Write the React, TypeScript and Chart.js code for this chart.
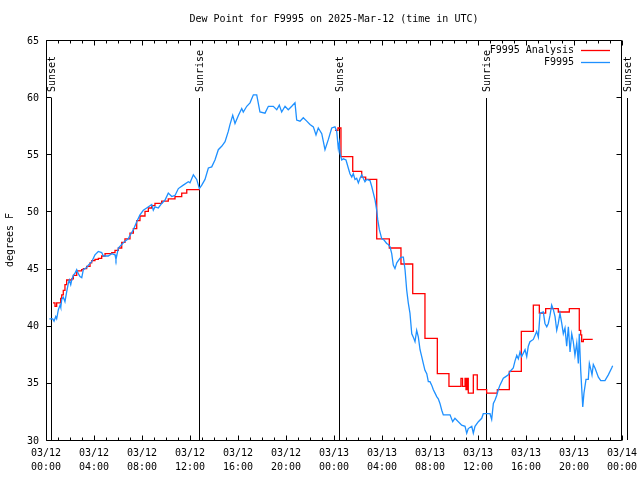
import React, { useEffect, useRef } from "react";
import { Chart, registerables } from "chart.js";

Chart.register(...registerables);

const TITLE = "Dew Point for F9995 on 2025-Mar-12 (time in UTC)";
const Y_TITLE = "degrees F";
const SERIES_NAMES = ["F9995 Analysis", "F9995"];
const SERIES_COLORS = ["#ff0000", "#1e90ff"];

const yTicks = [30, 35, 40, 45, 50, 55, 60, 65];
const xTickHours = [0, 4, 8, 12, 16, 20, 24, 28, 32, 36, 40, 44, 48];
const xTickDates = ["03/12", "03/12", "03/12", "03/12", "03/12", "03/12", "03/13", "03/13", "03/13", "03/13", "03/13", "03/13", "03/14"];
const xTickTimes = ["00:00", "04:00", "08:00", "12:00", "16:00", "20:00", "00:00", "04:00", "08:00", "12:00", "16:00", "20:00", "00:00"];

const sunHours = [0.44, 12.78, 24.44, 36.68, 48.4];
const sunLabels = ["Sunset", "Sunrise", "Sunset", "Sunrise", "Sunset"];

// F9995 Analysis (hours since 03/12 00:00 UTC, deg F)
const analysisHours = [0.58, 0.75, 0.89, 1.22, 1.31, 1.44, 1.58, 1.72, 2.14, 2.28, 2.56, 2.97, 3.11, 3.39, 3.67, 3.81, 4.08, 4.36, 4.64, 4.92, 5.19, 5.48, 5.75, 6.03, 6.31, 6.58, 7.0, 7.28, 7.56, 7.83, 8.25, 8.53, 8.81, 9.08, 9.64, 10.19, 10.75, 11.31, 11.73, 12.83, 13.0, 24.08, 24.33, 24.58, 25.56, 26.31, 26.64, 27.56, 28.61, 29.58, 30.56, 31.58, 32.61, 33.58, 34.58, 34.71, 34.92, 35.0, 35.11, 35.19, 35.61, 35.94, 36.72, 37.61, 38.61, 39.61, 40.61, 41.11, 41.64, 42.69, 43.61, 44.44, 44.56, 44.64, 44.78, 45.56];
const analysisValues = [42.0, 41.7, 42.0, 42.4, 42.7, 43.1, 43.6, 44.0, 44.1, 44.4, 44.8, 44.9, 45.0, 45.2, 45.5, 45.7, 45.8, 45.9, 46.1, 46.3, 46.3, 46.4, 46.6, 46.8, 47.3, 47.6, 48.1, 48.5, 49.2, 49.6, 50.0, 50.3, 50.5, 50.7, 50.9, 51.1, 51.3, 51.6, 51.9, 51.9, null, 57.1, 57.3, 54.8, 53.5, 53.0, 52.8, 47.6, 46.8, 45.4, 42.8, 38.9, 35.8, 34.7, 35.4, 34.7, 35.4, 34.4, 35.4, 34.1, 35.7, 34.4, 34.1, 34.4, 36.0, 39.5, 41.8, 41.1, 41.5, 41.2, 41.5, 39.6, 39.2, 38.6, 38.8, 38.8];

// F9995 observations
const obsHours = [0.28, 0.56, 0.67, 0.81, 0.89, 1.03, 1.17, 1.23, 1.31, 1.44, 1.58, 1.73, 1.86, 1.94, 2.06, 2.14, 2.28, 2.42, 2.56, 2.67, 2.83, 2.98, 3.11, 3.39, 3.53, 3.81, 4.08, 4.36, 4.64, 4.78, 5.19, 5.48, 5.75, 5.83, 6.03, 6.31, 6.58, 6.86, 7.0, 7.28, 7.56, 7.83, 8.11, 8.39, 8.81, 8.94, 9.08, 9.36, 9.64, 9.92, 10.19, 10.48, 10.75, 11.03, 11.44, 11.86, 12.0, 12.28, 12.56, 12.78, 12.98, 13.25, 13.53, 13.81, 14.08, 14.36, 14.64, 14.92, 15.19, 15.33, 15.56, 15.75, 16.03, 16.31, 16.44, 16.73, 17.0, 17.28, 17.56, 17.83, 18.25, 18.53, 18.94, 19.23, 19.44, 19.64, 19.92, 20.19, 20.48, 20.75, 20.89, 21.17, 21.44, 21.73, 22.0, 22.28, 22.5, 22.69, 22.98, 23.25, 23.53, 23.81, 24.08, 24.23, 24.36, 24.44, 24.5, 24.64, 24.78, 25.0, 25.19, 25.33, 25.48, 25.61, 25.75, 25.89, 26.03, 26.17, 26.31, 26.44, 26.58, 26.73, 27.0, 27.14, 27.28, 27.42, 27.56, 27.64, 27.78, 27.98, 28.17, 28.39, 28.53, 28.67, 28.81, 28.94, 29.08, 29.23, 29.5, 29.64, 29.78, 29.92, 30.06, 30.19, 30.33, 30.48, 30.61, 30.75, 30.89, 31.03, 31.17, 31.31, 31.44, 31.58, 31.73, 31.86, 32.0, 32.14, 32.28, 32.42, 32.56, 32.69, 32.83, 32.98, 33.11, 33.67, 33.89, 34.08, 34.64, 34.92, 35.06, 35.19, 35.48, 35.61, 35.75, 36.03, 36.31, 36.44, 37.0, 37.14, 37.28, 37.42, 37.56, 37.69, 37.83, 38.11, 38.25, 38.53, 38.67, 38.94, 39.08, 39.23, 39.36, 39.5, 39.64, 39.92, 40.06, 40.19, 40.33, 40.61, 40.89, 41.03, 41.17, 41.44, 41.58, 41.73, 41.86, 42.0, 42.14, 42.28, 42.42, 42.56, 42.69, 42.83, 42.98, 43.11, 43.25, 43.39, 43.53, 43.67, 43.81, 43.94, 44.08, 44.23, 44.36, 44.44, 44.56, 44.73, 44.83, 45.0, 45.19, 45.28, 45.42, 45.5, 45.61, 45.75, 46.03, 46.23, 46.58, 46.86, 47.14, 47.22];
const obsValues = [40.6, 40.6, 40.4, 40.8, 40.6, 41.4, 41.8, 41.6, 42.3, 42.5, 42.1, 43.0, 43.7, 44.0, 43.6, 44.0, 44.4, 44.6, 44.9, 44.6, 44.3, 44.2, 44.9, 45.1, 45.3, 45.6, 46.2, 46.5, 46.4, 46.1, 46.1, 46.3, 46.2, 45.8, 46.8, 47.1, 47.4, 47.6, 47.9, 48.4, 49.1, 49.7, 50.1, 50.3, 50.6, 50.1, 50.4, 50.3, 50.7, 51.0, 51.6, 51.3, 51.4, 52.0, 52.3, 52.6, 52.5, 53.2, 52.8, 52.0, 52.3, 52.8, 53.8, 53.9, 54.5, 55.4, 55.7, 56.1, 57.0, 57.6, 58.4, 57.7, 58.4, 59.0, 58.7, 59.2, 59.5, 60.2, 60.2, 58.7, 58.6, 59.2, 59.2, 58.9, 59.3, 58.7, 59.2, 58.9, 59.2, 59.5, 58.0, 57.9, 58.2, 57.9, 57.6, 57.4, 56.7, 57.3, 56.8, 55.4, 56.3, 57.3, 57.4, 57.0, 55.5, 56.0, 55.1, 54.5, 54.6, 54.5, 53.8, 53.3, 53.0, 53.3, 52.8, 52.9, 52.5, 52.9, 53.2, 52.9, 52.6, 52.8, 52.7, 52.2, 51.6, 51.0, 50.1, 49.3, 48.4, 47.6, 47.5, 47.2, 47.1, 46.9, 46.3, 45.3, 45.0, 45.5, 45.9, 46.0, 46.0, 44.9, 43.1, 42.0, 41.1, 39.3, 39.0, 38.6, 39.6, 39.0, 37.9, 37.3, 36.7, 36.1, 35.8, 35.1, 35.1, 34.8, 34.4, 34.1, 33.8, 33.6, 33.2, 32.6, 32.2, 32.2, 31.6, 31.9, 31.3, 31.2, 30.6, 31.0, 31.2, 30.6, 31.2, 31.6, 31.9, 32.3, 32.3, 31.8, 33.2, 33.5, 33.9, 34.4, 34.8, 35.4, 35.5, 35.7, 36.0, 36.3, 36.9, 37.4, 37.1, 37.7, 37.3, 37.9, 37.3, 38.2, 38.6, 38.8, 39.5, 39.0, 41.1, 41.2, 40.2, 39.9, 40.2, 40.9, 41.8, 41.4, 40.8, 39.6, 40.2, 41.1, 40.2, 39.3, 39.8, 38.2, 39.9, 37.7, 39.3, 38.6, 37.4, 38.5, 36.7, 39.3, 36.1, 32.9, 34.1, 35.3, 35.3, 36.7, 36.1, 35.7, 36.6, 36.3, 35.5, 35.2, 35.2, 35.7, 36.3, 36.5];

const X_MIN = 0;
const X_MAX = 48;
const Y_MIN = 30;
const Y_MAX = 65;

const FONT = '10px "DejaVu Sans Mono", "Liberation Mono", monospace';

function zip(xs: number[], ys: (number | null)[]) {
  const n = Math.min(xs.length, ys.length);
  const out: { x: number; y: number | null }[] = [];
  for (let i = 0; i < n; i++) out.push({ x: xs[i], y: ys[i] });
  return out;
}

const gnuplotPlugin = {
  id: "gnuplotLook",
  beforeDatasetsDraw(chart: any) {
    const { ctx, chartArea: a, scales } = chart;
    const x = scales.x;
    ctx.save();
    ctx.strokeStyle = "#000";
    ctx.fillStyle = "#000";
    ctx.lineWidth = 1;
    ctx.font = FONT;
    const topY = Math.round(a.top + (a.bottom - a.top) * 0.145);
    sunHours.forEach((h, i) => {
      const px = Math.round(x.getPixelForValue(h)) + 0.5;
      ctx.beginPath();
      ctx.moveTo(px, topY);
      ctx.lineTo(px, a.bottom);
      ctx.stroke();
      ctx.save();
      ctx.translate(px + 1, topY - 6);
      ctx.rotate(-Math.PI / 2);
      ctx.textAlign = "left";
      ctx.textBaseline = "middle";
      ctx.fillText(sunLabels[i], 0, 0);
      ctx.restore();
    });
    ctx.restore();
  },
  afterDraw(chart: any) {
    const { ctx, chartArea: a, scales } = chart;
    const x = scales.x;
    const y = scales.y;
    ctx.save();
    ctx.strokeStyle = "#000";
    ctx.fillStyle = "#000";
    ctx.lineWidth = 1;
    ctx.font = FONT;

    const L = Math.round(a.left) + 0.5;
    const R = Math.round(a.right) - 0.5;
    const T = Math.round(a.top) + 0.5;
    const B = Math.round(a.bottom) + 0.5;

    // border
    ctx.beginPath();
    ctx.rect(L, T, R - L, B - T);
    ctx.stroke();

    // y ticks (both sides, inward)
    ctx.beginPath();
    yTicks.forEach((v) => {
      const py = Math.round(y.getPixelForValue(v)) + 0.5;
      ctx.moveTo(L, py);
      ctx.lineTo(L + 5, py);
      ctx.moveTo(R, py);
      ctx.lineTo(R - 5, py);
    });
    // x ticks: hourly minor, labeled major
    for (let h = X_MIN; h <= X_MAX; h++) {
      const px = Math.round(x.getPixelForValue(h)) + 0.5;
      const len = xTickHours.includes(h) ? 5 : 3;
      ctx.moveTo(px, B);
      ctx.lineTo(px, B - len);
      ctx.moveTo(px, T);
      ctx.lineTo(px, T + len);
    }
    ctx.stroke();

    // y tick labels
    ctx.textAlign = "right";
    ctx.textBaseline = "middle";
    yTicks.forEach((v) => {
      ctx.fillText(String(v), a.left - 7, y.getPixelForValue(v) + 1);
    });

    // x tick labels
    ctx.textAlign = "center";
    xTickHours.forEach((h, i) => {
      const px = x.getPixelForValue(h);
      ctx.fillText(xTickDates[i], px, a.bottom + 13);
      ctx.fillText(xTickTimes[i], px, a.bottom + 27);
    });

    // title
    ctx.fillText(TITLE, (a.left + a.right) / 2, 19);

    // y axis title
    ctx.save();
    ctx.translate(10, (a.top + a.bottom) / 2);
    ctx.rotate(-Math.PI / 2);
    ctx.textAlign = "center";
    ctx.textBaseline = "middle";
    ctx.fillText(Y_TITLE, 0, 0);
    ctx.restore();

    // legend
    SERIES_NAMES.forEach((name, i) => {
      const ly = a.top + 9.5 + i * 12.5;
      ctx.textAlign = "right";
      ctx.textBaseline = "middle";
      ctx.fillStyle = "#000";
      ctx.fillText(name, a.right - 48, ly + 0.5);
      ctx.strokeStyle = SERIES_COLORS[i];
      ctx.lineWidth = 1.3;
      ctx.beginPath();
      ctx.moveTo(a.right - 41, Math.round(ly) + 0.5);
      ctx.lineTo(a.right - 12, Math.round(ly) + 0.5);
      ctx.stroke();
    });

    ctx.restore();
  },
};

export default function App() {
  const canvasRef = useRef<HTMLCanvasElement | null>(null);

  useEffect(() => {
    const canvas = canvasRef.current;
    if (!canvas) return;
    const chart = new Chart(canvas, {
      type: "line",
      data: {
        datasets: [
          {
            label: SERIES_NAMES[1],
            data: zip(obsHours, obsValues),
            borderColor: SERIES_COLORS[1],
            backgroundColor: SERIES_COLORS[1],
            borderWidth: 1.3,
            pointRadius: 0,
            tension: 0,
            fill: false,
          },
          {
            label: SERIES_NAMES[0],
            data: zip(analysisHours, analysisValues),
            borderColor: SERIES_COLORS[0],
            backgroundColor: SERIES_COLORS[0],
            borderWidth: 1.3,
            pointRadius: 0,
            stepped: "before",
            spanGaps: false,
            fill: false,
          },
        ],
      },
      options: {
        animation: false,
        responsive: false,
        maintainAspectRatio: false,
        devicePixelRatio: 1,
        layout: { padding: { left: 46, right: 18, top: 40, bottom: 40 } },
        plugins: {
          legend: { display: false },
          title: { display: false },
          tooltip: { enabled: false },
        },
        events: [],
        scales: {
          x: { type: "linear", min: X_MIN, max: X_MAX, display: false },
          y: { type: "linear", min: Y_MIN, max: Y_MAX, display: false },
        },
      },
      plugins: [gnuplotPlugin],
    } as any);
    return () => chart.destroy();
  }, []);

  return (
    <div style={{ position: "fixed", left: 0, top: 0, width: 640, height: 480, background: "#fff" }}>
      <canvas ref={canvasRef} width={640} height={480} style={{ display: "block", width: 640, height: 480 }} />
    </div>
  );
}
